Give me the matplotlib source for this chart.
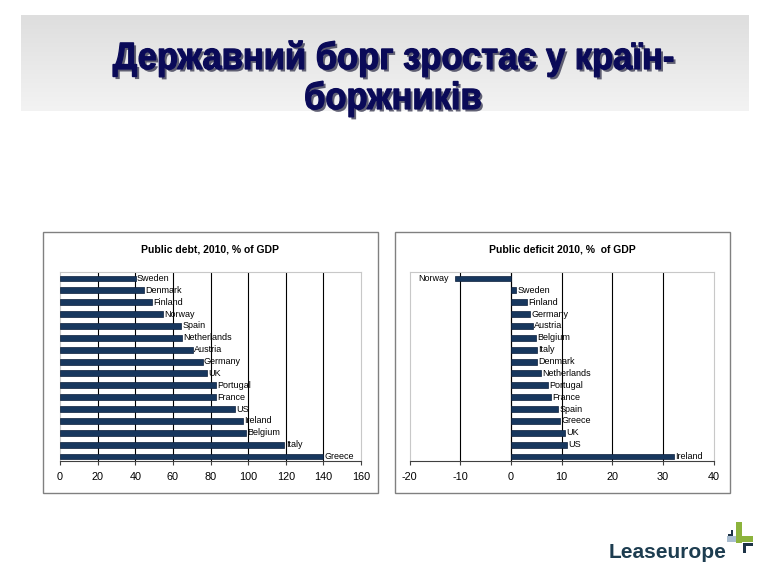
import matplotlib
matplotlib.use("Agg")
import matplotlib.pyplot as plt
import matplotlib.patheffects as pe
from matplotlib.patches import Rectangle, PathPatch
from matplotlib.textpath import TextPath
from matplotlib.font_manager import FontProperties
from matplotlib.transforms import Affine2D
import numpy as np

# data
debt_countries = ["Sweden", "Denmark", "Finland", "Norway", "Spain", "Netherlands",
                  "Austria", "Germany", "UK", "Portugal", "France", "US",
                  "Ireland", "Belgium", "Italy", "Greece"]
debt_values = [40.2, 44.6, 49.0, 54.6, 64.3, 64.7, 70.5, 75.8, 78.0, 82.7,
               83.1, 93.0, 97.1, 98.9, 119.2, 140.0]

deficit_countries = ["Norway", "Sweden", "Finland", "Germany", "Austria", "Belgium",
                     "Italy", "Denmark", "Netherlands", "Portugal", "France", "Spain",
                     "Greece", "UK", "US", "Ireland"]
deficit_values = [-11.1, 1.0, 3.2, 3.8, 4.3, 4.9, 5.1, 5.1, 5.9, 7.3, 7.8, 9.3,
                  9.6, 10.6, 11.1, 32.2]

debt_ticks = list(range(0, 161, 20))
deficit_ticks = list(range(-20, 41, 10))

title = ["Державний борг зростає у країн-", "боржників"]

W, H = 770, 577
BAR = "#17375e"
FONT = ["Liberation Sans", "DejaVu Sans"]


def fx(x):
    return x / W


def fy(y):
    return 1 - y / H


fig = plt.figure(figsize=(W / 100, H / 100), dpi=100)

# grey gradient band behind the title
band = fig.add_axes([fx(21), fy(111), fx(749) - fx(21), fy(15) - fy(111)])
grad = np.linspace(0, 1, 100).reshape(-1, 1)
band.imshow(grad, aspect="auto", cmap=matplotlib.colors.LinearSegmentedColormap.from_list(
    "g", ["#dedede", "#f3f3f3"]), extent=[0, 1, 0, 1])
band.axis("off")

# title drawn as a path so it can be squeezed like a narrow bold face
tfont = FontProperties(family="Liberation Sans", weight="bold")
shadow = [pe.SimplePatchShadow(offset=(1.8, -1.8), shadow_rgbFace="#30304a", alpha=0.75),
          pe.Normal()]
line1_w = 560.0
squeeze = None
for i, line in enumerate(title):
    tp = TextPath((0, 0), line, size=38, prop=tfont)
    bb = tp.get_extents()
    if squeeze is None:
        squeeze = line1_w / bb.width
    w = bb.width * squeeze
    base = [69, 109][i]
    tr = Affine2D().translate(-bb.x0, 0).scale(squeeze, 1.0).translate(393 - w / 2, H - base)
    patch = PathPatch(tr.transform_path(tp), facecolor="#0a0a58", edgecolor="#0a0a58",
                      linewidth=0.9, transform=None, path_effects=shadow)
    fig.patches.append(patch)


def chart(box_x0, ax_x0, ax_x1, countries, values, ticks, ttl, label_left_neg):
    fig.patches.append(Rectangle((fx(box_x0), fy(493)), fx(335), fy(232) - fy(493),
                                 transform=fig.transFigure, fill=False,
                                 edgecolor="#808080", linewidth=1.0))
    fig.text(fx(box_x0 + 167), fy(250), ttl, ha="center", va="center",
             fontsize=7.5, fontweight="bold", family=FONT)
    ax = fig.add_axes([fx(ax_x0), fy(461), fx(ax_x1) - fx(ax_x0), fy(272) - fy(461)])
    y = np.arange(len(countries))
    ax.barh(y, values, height=0.5, color=BAR, edgecolor="#0b1e3a", linewidth=0.5, zorder=3)
    ax.set_xlim(ticks[0], ticks[-1])
    ax.set_ylim(len(countries) - 0.62, -0.55)
    ax.set_xticks(ticks)
    ax.set_xticklabels([str(t) for t in ticks], fontsize=7.8, family=FONT)
    ax.set_yticks([])
    for t in ticks[1:-1]:
        ax.axvline(t, color="black", linewidth=0.8, zorder=1)
    for s in ["top", "right", "left"]:
        ax.spines[s].set_color("#c8c8c8")
        ax.spines[s].set_linewidth(0.8)
    ax.spines["bottom"].set_color("#404040")
    ax.tick_params(axis="x", length=3, width=0.8, color="#404040", pad=5)
    for yi, (c, v) in enumerate(zip(countries, values)):
        if v < 0 and label_left_neg:
            ax.annotate(c, (v, yi), xytext=(-4, 0), textcoords="offset points",
                        ha="right", va="center", fontsize=6.5, family=FONT, zorder=4)
        else:
            ax.annotate(c, (v, yi), xytext=(1, 0), textcoords="offset points",
                        ha="left", va="center", fontsize=6.5, family=FONT, zorder=4)
    return ax


chart(43, 60, 361, debt_countries, debt_values, debt_ticks,
      "Public debt, 2010, % of GDP", False)
ax2 = chart(395, 409.7, 713.7, deficit_countries, deficit_values, deficit_ticks,
            "Public deficit 2010, %  of GDP", True)
ax2.axvline(0, color="black", linewidth=0.8, zorder=2)

# logo
fig.text(fx(609), fy(558), "Leaseurope", ha="left", va="baseline", fontsize=15,
         fontweight="bold", color="#1d3d50", family=FONT)
logo = [
    (727, 536, 9, 6, "#a9bdd0"),
    (736, 522, 6, 21, "#8cb33c"),
    (742, 536, 11, 6, "#8cb33c"),
    (743, 543, 10, 3, "#1d3346"),
    (743, 543, 3, 10, "#1d3346"),
    (728, 534, 5, 2, "#1d3346"),
    (731, 530, 2, 6, "#1d3346"),
]
for x, yy, w, h, col in logo:
    fig.patches.append(Rectangle((fx(x), fy(yy + h)), fx(w), fy(0) - fy(h),
                                 transform=fig.transFigure, color=col, linewidth=0))

fig.savefig("out.png", dpi=100)
